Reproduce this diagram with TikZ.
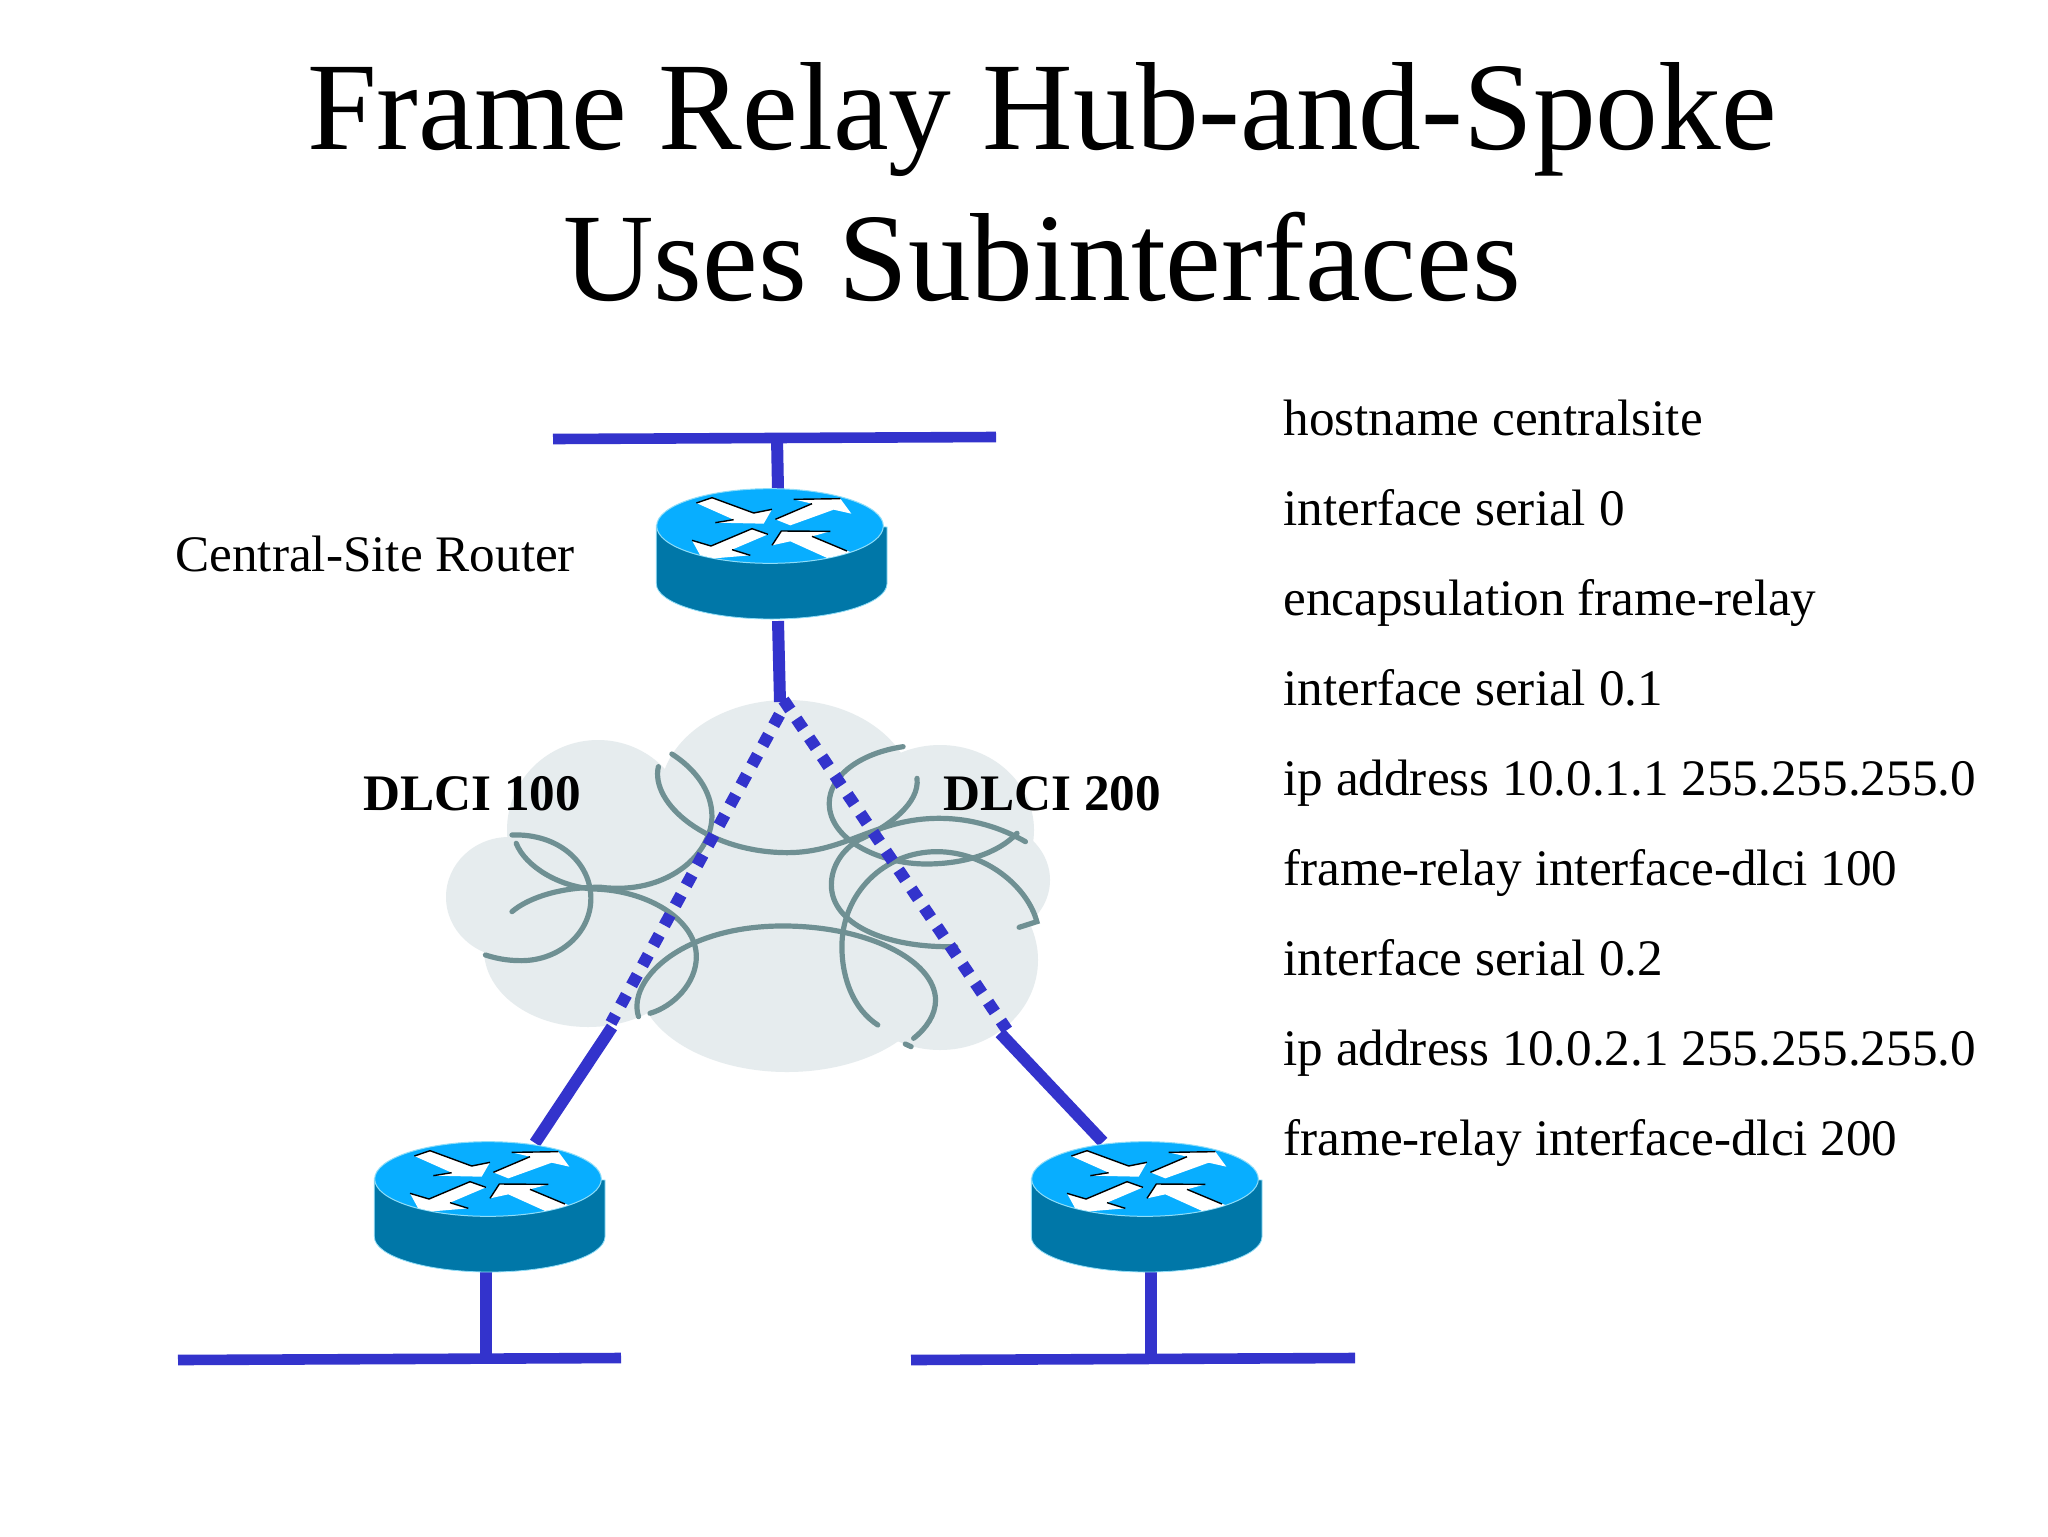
\documentclass[tikz,border=0pt]{standalone}
\usepackage{fontspec}
\setmainfont{Liberation Serif}
\definecolor{linkblue}{HTML}{3333CC}
\definecolor{rtop}{HTML}{08AEFF}
\definecolor{rside}{HTML}{0077A8}
\definecolor{redge}{HTML}{8FDDF8}
\definecolor{cloudfill}{HTML}{E6ECEE}
\definecolor{cloudarc}{HTML}{6F9093}
\tikzset{
  link/.style={draw=linkblue,line width=6pt},
  bar/.style={draw=linkblue,line width=5.3pt},
  vc/.style={draw=linkblue,line width=6pt,dash pattern=on 6pt off 5.4pt},
  lobe/.style={fill=cloudfill,draw=none},
  arc/.style={draw=cloudarc,line width=2.6pt,line cap=round},
  title/.style={font=\fontsize{62.7}{72}\selectfont,anchor=base,inner sep=0pt},
  body/.style={font=\fontsize{25.6}{30}\selectfont,anchor=base west,inner sep=0pt},
  bold/.style={font=\fontsize{25.6}{30}\selectfont\bfseries,anchor=base west,inner sep=0pt},
  hole/.style={minimum width=115pt,minimum height=65pt,inner sep=0pt,draw=none},
  arr/.style={fill=white,draw=none},
  sh/.style={draw=black,line width=0.7pt},
  router/.pic={
    \begin{scope}[scale=1/3,shift={(-452,-197)}]
      \fill[rside,draw=redge,line width=0.4pt] (108,195) -- (108,370) arc[start angle=180,end angle=0,x radius=346,y radius=106] -- (800,200) -- cycle;
      \fill[rtop,draw=redge,line width=0.5pt] (449,197) ellipse[x radius=340,y radius=112];
      \begin{scope}
        \clip (449,197) ellipse[x radius=339,y radius=111];
        \fill[arr] (228,128) -- (275,112) -- (400,158) -- (455,147) -- (430,190) -- (285,187) -- (340,178) -- cycle;
        \fill[arr] (465,177) -- (575,130) -- (520,117) -- (660,115) -- (693,160) -- (640,148) -- (510,195) -- cycle;
        \fill[arr] (395,205) -- (443,222) -- (335,268) -- (390,285) -- (270,295) -- (245,295) -- (215,240) -- (272,257) -- cycle;
        \fill[arr] (455,255) -- (483,212) -- (630,213) -- (575,228) -- (690,275) -- (625,295) -- (510,243) -- cycle;
        \draw[sh] (228,128) -- (275,112) -- (400,158) -- (455,147);
        \draw[sh] (285,187) -- (340,178);
        \draw[sh] (465,177) -- (575,130);
        \draw[sh] (520,117) -- (660,115);
        \draw[sh] (215,240) -- (272,257) -- (395,205) -- (443,222);
        \draw[sh] (335,268) -- (390,285);
        \draw[sh] (455,255) -- (483,212) -- (630,213);
        \draw[sh] (575,228) -- (680,272);
      \end{scope}
    \end{scope}
  }
}
\begin{document}
\begin{tikzpicture}[x=0.5pt,y=-0.5pt]
\useasboundingbox[fill=white] (0,0) rectangle (2048,1536);

% title
\node[title] (t1) at (1042,149) {Frame Relay Hub-and-Spoke};
\node[title] (t2) at (1042,300) {Uses Subinterfaces};

% cloud
\fill[lobe] (787,795) ellipse[x radius=127,y radius=95];
\fill[lobe] (598,830) ellipse[x radius=91,y radius=90];
\fill[lobe] (509,897) ellipse[x radius=63,y radius=60];
\fill[lobe] (588,950) ellipse[x radius=104,y radius=77];
\fill[lobe] (787,980) ellipse[x radius=149,y radius=92];
\fill[lobe] (940,830) ellipse[x radius=94,y radius=85];
\fill[lobe] (980,880) ellipse[x radius=70,y radius=60];
\fill[lobe] (940,960) ellipse[x radius=98,y radius=90];
\fill[lobe] (787,880) ellipse[x radius=198,y radius=100];

\begin{scope}[shift={(420,690)},xscale=0.4219,yscale=0.3333]
  \draw[arc] (218,435) .. controls (330,430) and (405,520) .. (405,625) .. controls (405,730) and (330,812) .. (240,812) .. controls (205,812) and (180,805) .. (155,795);
  \draw[arc] (228,460) .. controls (250,530) and (330,590) .. (410,597) .. controls (540,600) and (655,690) .. (655,800) .. controls (655,880) and (600,950) .. (545,970);
  \draw[arc] (218,665) .. controls (260,620) and (340,590) .. (430,592) .. controls (580,615) and (690,500) .. (692,380) .. controls (692,300) and (650,235) .. (597,192);
  \draw[arc] (565,230) .. controls (545,340) and (680,487) .. (870,488) .. controls (1010,488) and (1080,385) .. (1230,385) .. controls (1310,385) and (1380,415) .. (1435,455);
  \draw[arc] (1145,170) .. controls (1040,190) and (970,260) .. (970,340) .. controls (970,450) and (1090,522) .. (1200,522) .. controls (1290,522) and (1370,490) .. (1415,430);
  \draw[arc] (1178,265) .. controls (1185,340) and (1110,410) .. (1040,450) .. controls (1000,480) and (975,530) .. (975,585) .. controls (975,700) and (1100,775) .. (1270,770);
  \draw[arc] (1085,1005) .. controls (1030,960) and (1000,870) .. (1000,770) .. controls (1000,610) and (1100,485) .. (1225,485) .. controls (1340,485) and (1440,590) .. (1462,695) -- (1420,712);
  \draw[arc] (518,980) .. controls (490,870) and (620,708) .. (860,708) .. controls (1060,708) and (1220,810) .. (1222,930) .. controls (1222,975) and (1200,1015) .. (1170,1045);
  \draw[arc] (1150,1062) -- (1164,1070);
\end{scope}

% routers (named anchors for the connectors)
\node[hole] (hub) at (771,552) {};
\node[hole] (left) at (489,1205) {};
\node[hole] (right) at (1146,1205) {};

% named free ends
\coordinate (barTopL) at (553,439);
\coordinate (barTopR) at (996,437);
\coordinate (tapTop) at (777,438);
\coordinate (hubUp) at (778,490);
\coordinate (hubDown) at (778,621);
\coordinate (split) at (780,702);
\coordinate (leftDotA) at (779.5,714.7);
\coordinate (leftDotB) at (611,1023);
\coordinate (leftSolidA) at (612,1027);
\coordinate (leftSolidB) at (535,1143);
\coordinate (rightDotA) at (783.6,700);
\coordinate (rightDotB) at (1007,1030);
\coordinate (rightSolidA) at (1000,1033);
\coordinate (rightSolidB) at (1103,1142);
\coordinate (leftDown) at (486,1270);
\coordinate (leftTap) at (486,1359);
\coordinate (barLL) at (178,1360);
\coordinate (barLR) at (621,1358);
\coordinate (rightDown) at (1151,1270);
\coordinate (rightTap) at (1151,1359);
\coordinate (barRL) at (911,1360);
\coordinate (barRR) at (1355,1358);

\draw[bar] (barTopL) -- (barTopR);
\draw[link] (tapTop) -- (hubUp);
\draw[link] (hubDown) -- (split);
\draw[vc] (leftDotA) -- (leftDotB);
\draw[vc] (rightDotA) -- (rightDotB);
\draw[link] (leftSolidA) -- (leftSolidB);
\draw[link] (rightSolidA) -- (rightSolidB);
\draw[link] (leftDown) -- (leftTap);
\draw[bar] (barLL) -- (barLR);
\draw[link] (rightDown) -- (rightTap);
\draw[bar] (barRL) -- (barRR);

\pic at (771,526) {router};
\pic at (489,1179) {router};
\pic at (1146,1179) {router};

% labels
\node[body] (central) at (175,571) {Central-Site Router};
\node[bold] (d100) at (363,810) {DLCI 100};
\node[bold] (d200) at (943,810) {DLCI 200};

\node[body] (c1) at (1283,435) {hostname centralsite};
\node[body] (c2) at (1283,525) {interface serial 0};
\node[body] (c3) at (1283,615) {encapsulation frame-relay};
\node[body] (c4) at (1283,705) {interface serial 0.1};
\node[body] (c5) at (1283,795) {ip address 10.0.1.1 255.255.255.0};
\node[body] (c6) at (1283,885) {frame-relay interface-dlci 100};
\node[body] (c7) at (1283,975) {interface serial 0.2};
\node[body] (c8) at (1283,1065) {ip address 10.0.2.1 255.255.255.0};
\node[body] (c9) at (1283,1155) {frame-relay interface-dlci 200};
\end{tikzpicture}
\end{document}
